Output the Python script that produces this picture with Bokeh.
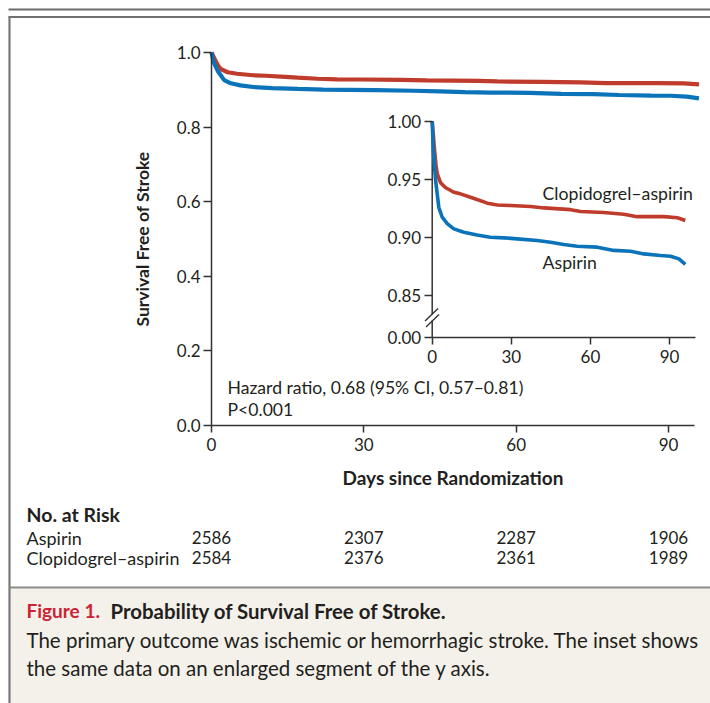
from bokeh.plotting import figure
from bokeh.models import (LinearAxis, Range1d, FixedTicker, PrintfTickFormatter,
                          CustomJSTickFormatter)
from bokeh.core.properties import value
from bokeh.embed import file_html
from bokeh.resources import INLINE

# ---------------- data ----------------
DAYS_CLOP = [0, 0.4, 0.9, 1.4, 1.9, 3.2, 5.0, 8.2, 10.7, 14.5, 17.0, 20.9, 24.7,
             29.7, 37.3, 42.4, 52.5, 56.3, 65.0, 72.7, 77.7, 87.9, 93.0, 96.0]
SURV_CLOP = [1.000, 0.989, 0.975, 0.963, 0.955, 0.947, 0.943, 0.939, 0.9376, 0.9347,
             0.9327, 0.9296, 0.928, 0.9276, 0.9267, 0.9255, 0.924, 0.9224, 0.9215,
             0.920, 0.918, 0.918, 0.917, 0.9147]
DAYS_ASP = [0, 0.4, 1.3, 2.5, 3.8, 5.7, 8.2, 12.0, 17.0, 22.0, 27.2, 32.2, 39.8,
            44.9, 49.9, 55.0, 62.6, 68.9, 75.2, 80.3, 86.6, 90.4, 93.6, 96.0]
SURV_ASP = [1.000, 0.975, 0.949, 0.926, 0.9175, 0.912, 0.9075, 0.9046, 0.9023,
            0.9003, 0.8998, 0.8989, 0.8975, 0.896, 0.894, 0.8926, 0.8918, 0.889,
            0.8883, 0.886, 0.8846, 0.884, 0.8817, 0.877]

X_TICKS = [0, 30, 60, 90]
Y_TICKS = [0.0, 0.2, 0.4, 0.6, 0.8, 1.0]
INSET_Y_TICKS = [0.85, 0.90, 0.95, 1.00]
INSET_ZERO_LABEL = "0.00"

RISK_DAYS = [0, 30, 60, 90]
RISK_ASPIRIN = ["2586", "2307", "2287", "1906"]
RISK_CLOP = ["2584", "2376", "2361", "1989"]
GROUP_NAMES = ["Aspirin", "Clopidogrel\u2013aspirin"]

HR_TEXT = ["Hazard ratio, 0.68 (95% CI, 0.57\u20130.81)", "P<0.001"]
Y_TITLE = "Survival Free of Stroke"
X_TITLE = "Days since Randomization"
RISK_TITLE = "No. at Risk"
FIG_NUM = "Figure 1."
FIG_TITLE = "Probability of Survival Free of Stroke."
CAPTION = ["The primary outcome was ischemic or hemorrhagic stroke. The inset shows",
           "the same data on an enlarged segment of the y axis."]

# ---------------- layout (page pixel geometry) ----------------
W, H = 710, 703
PX0, PX1 = 0, W          # page x range (pixels)
PY0, PY1 = H, 0          # page y range (flipped)

# main plot mapping
M_X0, M_PPD = 211.0, 457.0 / 90  # px of day 0, px per day
M_Y0, M_PPU = 425.0, 373.0       # px of 0.0, px per unit
M_XMAX = 95.2
# inset mapping
I_X0, I_PPD = 431.7, 237.3 / 90
I_Y1, I_PPU = 120.7, 1164.0      # px of 1.00, px per unit
I_ZERO_PX = 337.0
I_XMAX = 99.8
I_ZERO = 1 - (I_ZERO_PX - I_Y1) / I_PPU   # axis position standing for 0.00

def lin(px0, px_per, origin_val, a, b, flip=False):
    if flip:
        return Range1d(origin_val + (px0 - a) / px_per, origin_val + (px0 - b) / px_per)
    return Range1d(origin_val + (a - px0) / px_per, origin_val + (b - px0) / px_per)

FONT_NAME = "Lato"
FONT = value(FONT_NAME)
INK = "#231f20"
RED = "#bf3b2b"
BLUE = "#0b73b9"

p = figure(width=W, height=H, output_backend="svg", toolbar_location=None,
           x_axis_location=None, y_axis_location=None, min_border=0,
           x_range=lin(M_X0, M_PPD, 0.0, PX0, PX1),
           y_range=lin(M_Y0, M_PPU, 0.0, PY0, PY1, flip=True),
           outline_line_color=None, background_fill_color="white",
           border_fill_color="white")
p.grid.visible = False
p.extra_x_ranges = {"page": Range1d(PX0, PX1),
                    "inset": lin(I_X0, I_PPD, 0.0, PX0, PX1)}
p.extra_y_ranges = {"page": Range1d(PY0, PY1),
                    "inset": lin(I_Y1, I_PPU, 1.0, PY0, PY1, flip=True)}

PG = dict(x_range_name="page", y_range_name="page")
IN = dict(x_range_name="inset", y_range_name="inset")

# ---------------- frame / caption box ----------------
p.quad(left=[10], right=[PX1], top=[588], bottom=[PY0], fill_color="#f4f1ea",
       line_color=None, **PG)
p.segment(x0=[8, 8, 9, 9], x1=[PX1, PX1, 9, PX1], y0=[9, 16.5, 16, 587],
          y1=[9, 16.5, PY0, 587], line_color=["#6b6b6b", "#707070", "#777777", "#8a8a8a"],
          line_width=2.2, **PG)

# ---------------- main axes ----------------
def style_axis(ax, tick_out=8):
    ax.axis_line_color = "#333333"
    ax.axis_line_width = 1.5
    ax.major_tick_line_color = "#333333"
    ax.major_tick_line_width = 1.5
    ax.major_tick_in = 0
    ax.major_tick_out = tick_out
    ax.minor_tick_line_color = None
    ax.major_label_text_font = FONT_NAME
    ax.major_label_text_font_size = "17px"
    ax.major_label_text_color = INK
    ax.major_label_standoff = 3
    ax.axis_label_text_font = FONT_NAME
    ax.axis_label_text_font_style = "bold"
    ax.axis_label_text_color = INK

yax = LinearAxis(fixed_location=0, bounds=(0, 1), ticker=FixedTicker(ticks=Y_TICKS),
                 formatter=PrintfTickFormatter(format="%.1f"), axis_label=Y_TITLE)
style_axis(yax)
yax.axis_label_text_font_size = "17.5px"
yax.axis_label_standoff = 21
p.add_layout(yax, "left")

xax = LinearAxis(fixed_location=0, bounds=(0, M_XMAX), ticker=FixedTicker(ticks=X_TICKS),
                 axis_label=X_TITLE)
style_axis(xax, tick_out=7)
xax.major_label_standoff = 5
xax.axis_label_text_font_size = "19px"
xax.axis_label_standoff = 12
p.add_layout(xax, "below")

p.line(DAYS_CLOP, SURV_CLOP, line_color=RED, line_width=4.2)
p.line(DAYS_ASP, SURV_ASP, line_color=BLUE, line_width=4.2)

# ---------------- inset ----------------
iyax = LinearAxis(fixed_location=0, bounds=(I_ZERO, 1.0),
                  ticker=FixedTicker(ticks=[I_ZERO] + INSET_Y_TICKS),
                  formatter=CustomJSTickFormatter(
                      args=dict(z=I_ZERO, lab=INSET_ZERO_LABEL),
                      code="return tick < z + 0.001 ? lab : tick.toFixed(2);"),
                  **IN)
style_axis(iyax)
iyax.axis_line_color = None
p.add_layout(iyax, "left")

ixax = LinearAxis(fixed_location=I_ZERO, bounds=(0, I_XMAX),
                  ticker=FixedTicker(ticks=X_TICKS), **IN)
style_axis(ixax, tick_out=7)
ixax.major_label_standoff = 5
p.add_layout(ixax, "below")

# inset y axis line with break
brk_hi = 1 - (314 - I_Y1) / I_PPU
brk_lo = 1 - (320 - I_Y1) / I_PPU
p.segment(x0=[0, 0], x1=[0, 0], y0=[1.0, brk_lo], y1=[brk_hi, I_ZERO],
          line_color="#333333", line_width=1.5, **IN)
p.segment(x0=[424.5, 425.5], x1=[437.5, 438.5], y0=[320.5, 326.5], y1=[308, 314],
          line_color="#333333", line_width=1.4, **PG)

p.line(DAYS_CLOP, SURV_CLOP, line_color=RED, line_width=3.6, **IN)
p.line(DAYS_ASP, SURV_ASP, line_color=BLUE, line_width=3.6, **IN)

p.text(x=[542, 542], y=[193, 262], text=[GROUP_NAMES[1], GROUP_NAMES[0]],
       text_font=FONT, text_font_size="17.7px", text_color=INK,
       text_baseline="middle", text_align="left", **PG)

# hazard ratio
p.text(x=[227, 227], y=[387, 409], text=HR_TEXT, text_font=FONT,
       text_font_size="17.6px", text_color=INK, text_baseline="middle",
       text_align="left", **PG)

# ---------------- number at risk ----------------
p.text(x=[26], y=[514], text=[RISK_TITLE], text_font=FONT, text_font_size="19.5px",
       text_font_style="bold", text_color=INK, text_baseline="middle", **PG)
p.text(x=[26, 26], y=[537, 557], text=GROUP_NAMES, text_font=FONT,
       text_font_size="18px", text_color=INK, text_baseline="middle", **PG)
p.text(x=RISK_DAYS, y=[537] * 4, text=RISK_ASPIRIN, text_font=FONT,
       text_font_size="17px", text_color=INK, text_baseline="middle",
       text_align="center", y_range_name="page")
p.text(x=RISK_DAYS, y=[557] * 4, text=RISK_CLOP, text_font=FONT,
       text_font_size="17px", text_color=INK, text_baseline="middle",
       text_align="center", y_range_name="page")

# ---------------- caption ----------------
p.text(x=[26], y=[610], text=[FIG_NUM], text_font=FONT, text_font_size="19px",
       text_font_style="bold", text_color="#cc2232", text_baseline="middle", **PG)
p.text(x=[110], y=[610], text=[FIG_TITLE], text_font=FONT, text_font_size="20.4px",
       text_font_style="bold", text_color=INK, text_baseline="middle", **PG)
p.text(x=[26, 26], y=[639, 667], text=CAPTION, text_font=FONT, text_font_size="20.5px",
       text_color=INK, text_baseline="middle", **PG)

open("out.html", "w").write(file_html(p, INLINE))
